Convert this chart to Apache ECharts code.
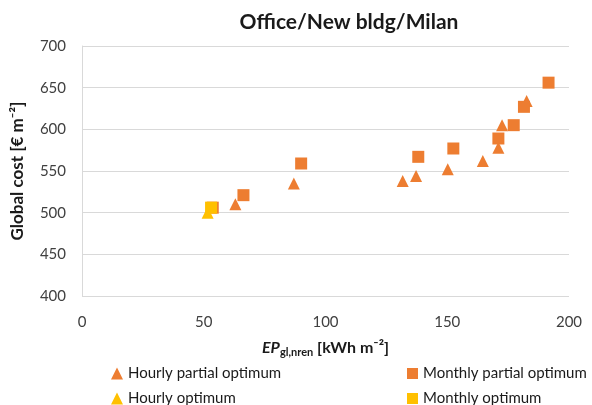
<!DOCTYPE html>
<html>
 <head>
  <title>Office/New bldg/Milan</title>
  <script src="https://cdn.jsdelivr.net/npm/echarts@6/dist/echarts.min.js"></script>
  <style>
    html, body, #container {
    width: 100%;
    height: 100%;
    margin: 0;
    padding: 0;
    background: #fff;
    }
  </style>
 </head>
<body>
  <div id="container"></div>
  <script>
    // [EP kWh/m2, global cost EUR/m2]
    var hourlyPartial = [[63, 510], [87, 535], [131.7, 538], [137.2, 544], [150.2, 552],
                         [164.6, 562], [171, 578], [172.5, 605], [182.6, 634]];
    var monthlyPartial = [[53.7, 506], [66.3, 521], [90, 559], [138.1, 567], [152.5, 577],
                          [171, 589], [177.3, 605], [181.5, 627], [191.6, 656]];
    var hourlyOptimum = [[51.6, 500]];
    var monthlyOptimum = [[53, 506]];

    var orange = '#ED7D31';
    var yellow = '#FFC000';
    var font = 'Lato, "Noto Sans", sans-serif';

    var chart = echarts.init(document.getElementById('container'));

    chart.setOption({
      animation: false,
      textStyle: { fontFamily: font },
      title: {
        text: 'Office/New bldg/Milan',
        left: 344, top: 7, textAlign: 'center',
        textStyle: { fontSize: 21, fontWeight: 'bold', color: '#1a1a1a', fontFamily: font }
      },
      grid: { left: 82, right: 23, top: 46, bottom: 109 },
      xAxis: {
        type: 'value', min: 0, max: 200, interval: 50,
        axisLine: { show: false },
        axisTick: { show: false },
        splitLine: { show: false },
        axisLabel: { fontSize: 15, color: '#404040', margin: 19 },
        name: '{a|EP}{b|gl,nren}{c| [kWh m⁻²]}',
        nameLocation: 'middle', nameGap: 42,
        nameTextStyle: {
          rich: {
            a: { fontSize: 16, fontWeight: 'bold', fontStyle: 'italic', color: '#1a1a1a', fontFamily: font },
            b: { fontSize: 11, fontWeight: 'bold', color: '#1a1a1a', padding: [9, 0, 0, 0], fontFamily: font },
            c: { fontSize: 16, fontWeight: 'bold', color: '#1a1a1a', fontFamily: font }
          }
        }
      },
      yAxis: {
        type: 'value', min: 400, max: 700, interval: 50,
        axisLine: { show: true, lineStyle: { color: '#d9d9d9' } },
        axisTick: { show: false },
        splitLine: { lineStyle: { color: '#d9d9d9' } },
        axisLabel: { fontSize: 15, color: '#404040', margin: 16 },
        name: 'Global cost [€ m⁻²]',
        nameLocation: 'middle', nameGap: 56,
        nameTextStyle: { fontSize: 17, fontWeight: 'bold', color: '#1a1a1a', fontFamily: font }
      },
      legend: [{
        data: ['Hourly partial optimum', 'Hourly optimum'],
        orient: 'vertical', left: 111, top: 366, height: 60, padding: 0, itemGap: 10,
        itemWidth: 12, itemHeight: 12,
        textStyle: { fontSize: 15, lineHeight: 14, color: '#1a1a1a' }
      }, {
        data: ['Monthly partial optimum', 'Monthly optimum'],
        orient: 'vertical', left: 407, top: 366, height: 60, padding: 0, itemGap: 10,
        itemWidth: 11, itemHeight: 11,
        textStyle: { fontSize: 15, lineHeight: 14, color: '#1a1a1a' }
      }],
      series: [{
        name: 'Hourly partial optimum', type: 'scatter', symbol: 'triangle', symbolSize: 12,
        itemStyle: { color: orange, opacity: 1 }, data: hourlyPartial
      }, {
        name: 'Monthly partial optimum', type: 'scatter', symbol: 'rect', symbolSize: 12,
        itemStyle: { color: orange, opacity: 1 }, data: monthlyPartial
      }, {
        name: 'Hourly optimum', type: 'scatter', symbol: 'triangle', symbolSize: 12,
        itemStyle: { color: yellow, opacity: 1 }, data: hourlyOptimum
      }, {
        name: 'Monthly optimum', type: 'scatter', symbol: 'rect', symbolSize: 12,
        itemStyle: { color: yellow, opacity: 1 }, data: monthlyOptimum
      }]
    });
  </script>
</body>
</html>
